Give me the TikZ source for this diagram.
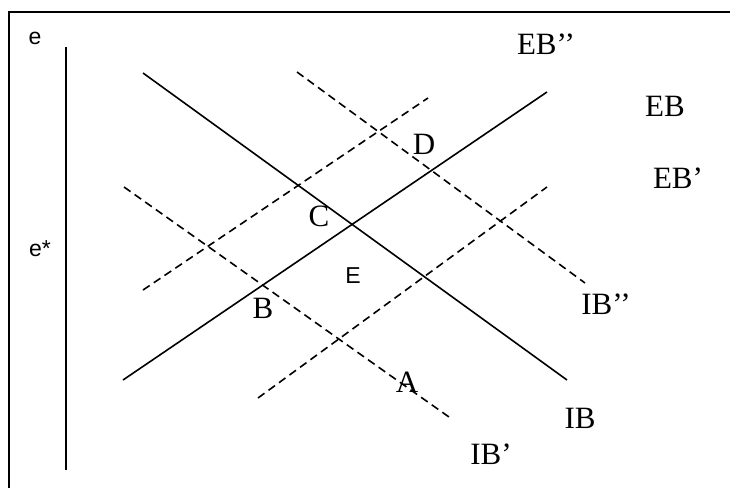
\documentclass[tikz,border=0pt]{standalone}
\usepackage{fontspec}
\setmainfont{Liberation Serif}
\newfontfamily\arialfont{Liberation Sans}
\begin{document}
\begin{tikzpicture}[x=1pt,y=-1pt,
  solidline/.style={line width=1.6pt},
  dashline/.style={line width=1.6pt,dash pattern=on 8pt off 5pt},
  framel/.style={line width=2.2pt},
  lbl/.style={inner sep=0pt,font=\fontsize{31}{31}\selectfont},
  slbl/.style={inner sep=0pt,font=\arialfont\fontsize{23}{23}\selectfont}]
\useasboundingbox (0,0) rectangle (730,487);
% frame
\coordinate (fb) at (9,490);
\coordinate (ftl) at (9,12);
\coordinate (fr) at (735,12);
\draw[framel] (fb) -- (ftl) -- (fr);
% axis
\coordinate (ax1) at (66,47);
\coordinate (ax2) at (66,470);
\draw[line width=1.5pt] (ax1) -- (ax2);
% solid lines
\coordinate (ib1) at (143,73);
\coordinate (ib2) at (567,380);
\coordinate (eb1) at (123,380);
\coordinate (eb2) at (547,92);
\draw[solidline] (ib1) -- (ib2);
\draw[solidline] (eb1) -- (eb2);
% dashed lines
\coordinate (ibpp1) at (297,72);
\coordinate (ibpp2) at (585,283);
\coordinate (ebpp1) at (143,290);
\coordinate (ebpp2) at (428,98);
\coordinate (ibp1) at (124,187);
\coordinate (ibp2) at (449,417);
\coordinate (ebp1) at (258,398);
\coordinate (ebp2) at (547,187);
\draw[dashline] (ibpp1) -- (ibpp2);
\draw[dashline] (ebpp1) -- (ebpp2);
\draw[dashline] (ibp1) -- (ibp2);
\draw[dashline] (ebp1) -- (ebp2);
% labels
\node[slbl] (le) at (35,38) {e};
\node[slbl] (les) at (40,249) {e*};
\node[slbl] (lE) at (353,276) {E};
\node[lbl] (lC) at (319,216) {C};
\node[lbl] (lD) at (424,144) {D};
\node[lbl] (lB) at (263,308) {B};
\node[lbl] (lA) at (407,382) {A};
\node[lbl] (lIB) at (580,418) {IB};
\node[lbl] (lIBp) at (491,454) {IB’};
\node[lbl] (lIBpp) at (606,304) {IB’’};
\node[lbl] (lEB) at (665,106) {EB};
\node[lbl] (lEBp) at (678,178) {EB’};
\node[lbl] (lEBpp) at (546,44) {EB’’};
\end{tikzpicture}
\end{document}
